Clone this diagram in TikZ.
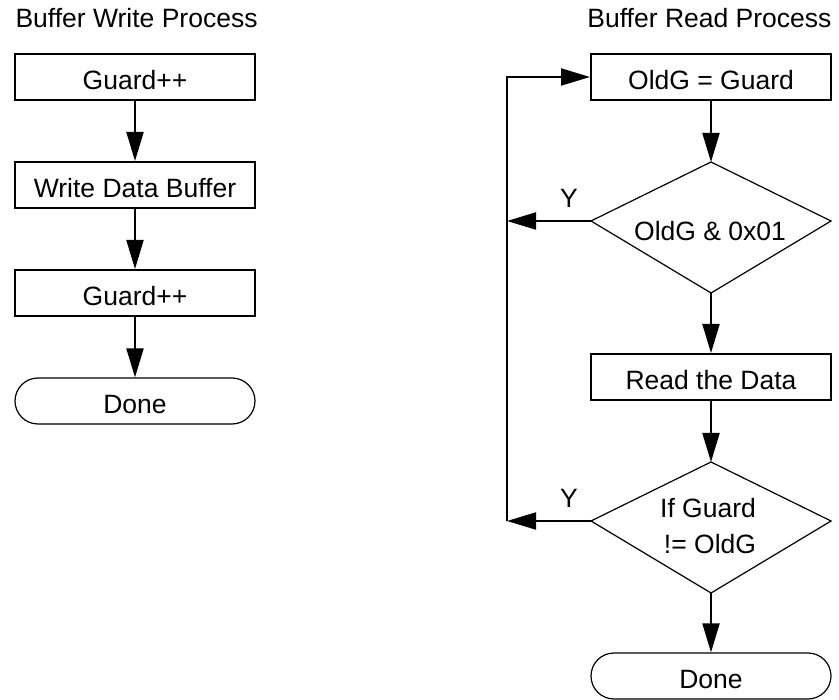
\documentclass[tikz,border=0pt]{standalone}
\usepackage{fontspec}
\setmainfont{Liberation Sans}
\usetikzlibrary{arrows.meta}
\begin{document}
\begin{tikzpicture}[x=1pt,y=-1pt,
  every node/.style={font=\fontsize{26.5}{36}\selectfont},
  stepbox/.style={draw,line width=2pt,minimum width=240pt,minimum height=46pt,inner sep=0pt,text height=26pt,text depth=1.4pt},
  donebox/.style={draw,line width=1.2pt,rounded corners=23pt,minimum width=240pt,minimum height=46pt,inner sep=0pt,text height=26pt,text depth=1.4pt},
  arr/.style={line width=2pt,-{Triangle[length=29pt,width=17pt]}},
  thinline/.style={line width=1.2pt,line join=miter}]
\useasboundingbox (0,0) rectangle (839,700);

% titles
\node[anchor=base west] (t1) at (12,28) {Buffer Write Process};
\node[anchor=base east] (t2) at (835,28) {Buffer Read Process};

% left column
\node[stepbox] (g1) at (135,77) {Guard++};
\node[stepbox] (wd) at (135,185) {Write Data Buffer};
\node[stepbox] (g2) at (135,293) {Guard++};
\node[donebox] (dn1) at (135,401) {Done};
\draw[arr] (g1) -- (wd);
\draw[arr] (wd) -- (g2);
\draw[arr] (g2) -- (dn1);

% right column
\node[stepbox] (og) at (711,77) {OldG = Guard};

\coordinate (d1t) at (711,162);
\coordinate (d1r) at (831,221);
\coordinate (d1b) at (711,293);
\coordinate (d1l) at (591,221);
\draw[thinline] (d1t) -- (d1r) -- (d1b) -- (d1l) -- cycle;
\node[anchor=base] (d1txt) at (710,240.7) {OldG \& 0x01};

\node[stepbox] (rd) at (711,377) {Read the Data};

\coordinate (d2t) at (711,462);
\coordinate (d2r) at (831,521);
\coordinate (d2b) at (711,593);
\coordinate (d2l) at (591,521);
\draw[thinline] (d2t) -- (d2r) -- (d2b) -- (d2l) -- cycle;
\node[anchor=base] (d2txta) at (708,518) {If Guard};
\node[anchor=base] (d2txtb) at (710,554) {!= OldG};

\node[donebox] (dn2) at (711,676) {Done};

\draw[arr] (og) -- (d1t);
\draw[arr] (d1b) -- (rd);
\draw[arr] (rd) -- (d2t);
\draw[arr] (d2b) -- (dn2);

% loop back
\coordinate (lp1) at (507,221);
\coordinate (lp2) at (507,521);
\draw[arr] (d1l) -- (lp1);
\draw[arr] (d2l) -- (lp2);
\draw[arr] (lp2) |- (og.west);

\node[anchor=base] (y1) at (569,208) {Y};
\node[anchor=base] (y2) at (569,508) {Y};
\end{tikzpicture}
\end{document}
